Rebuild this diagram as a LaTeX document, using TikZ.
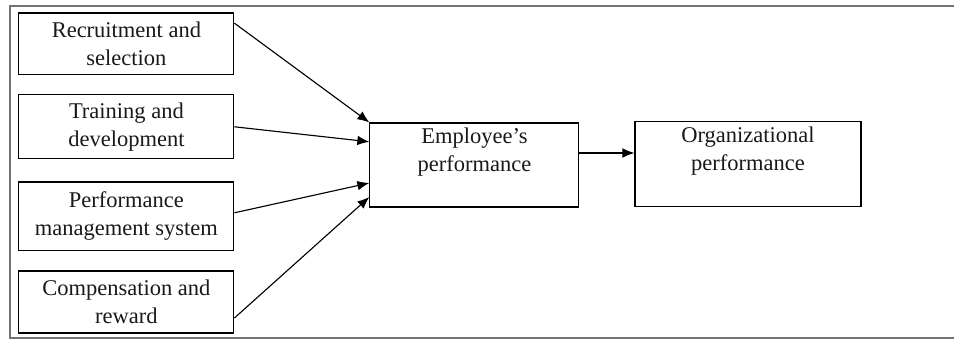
\documentclass[tikz,border=0pt]{standalone}
\usepackage{fontspec}
\setmainfont{Liberation Serif}
\usetikzlibrary{arrows, shapes, positioning, arrows.meta}

\begin{document}
\begin{tikzpicture}[scale=1, transform shape,
		box/.style={draw, line width=0.75pt, align=center, inner sep=2pt,
			font=\fontsize{16}{20}\selectfont, text=black!90},
		lbox/.style={box, minimum width=5.375cm, minimum height=1.6cm},
		link/.style={-{Latex[length=3mm, width=2.4mm]}, line width=0.8pt}]
			\useasboundingbox (0, 0) rectangle (23.85, 8.5);
			\draw[black!55, line width=1.3pt] (23.85, 8.36) -- (0.25, 8.36) -- (0.25, 0.04) -- (23.85, 0.04);
			\node (rec)[lbox, minimum height=1.53cm] at (3.16, 7.41) {Recruitment and\\selection};
			\node (train)[lbox] at (3.16, 5.33) {Training and\\development};
			\node (perf)[lbox, minimum height=1.72cm] at (3.16, 3.09) {Performance\\management system};
			\node (comp)[lbox, minimum height=1.55cm] at (3.16, 0.95) {Compensation and\\reward};
			\node (emp)[box, minimum width=5.225cm, minimum height=2.1cm] at (11.86, 4.375) {Employee's\\performance\\[2pt]};
			\node (org)[box, minimum width=5.65cm, minimum height=2.125cm] at (18.7, 4.39) {Organizational\\performance\\[2pt]};
			\draw[link] ([yshift=0.51cm]rec.east) -- (emp.north west);
			\draw[link] (train.east) -- ([yshift=0.58cm]emp.west);
			\draw[link] ([yshift=0.09cm]perf.east) -- ([yshift=-0.45cm]emp.west);
			\draw[link] ([yshift=-0.4cm]comp.east) -- ([yshift=-0.8cm]emp.west);
			\draw[link] ([yshift=0.3cm]emp.east) -- ([yshift=0.3cm]emp.east -| org.west);
		\end{tikzpicture}
\end{document}
